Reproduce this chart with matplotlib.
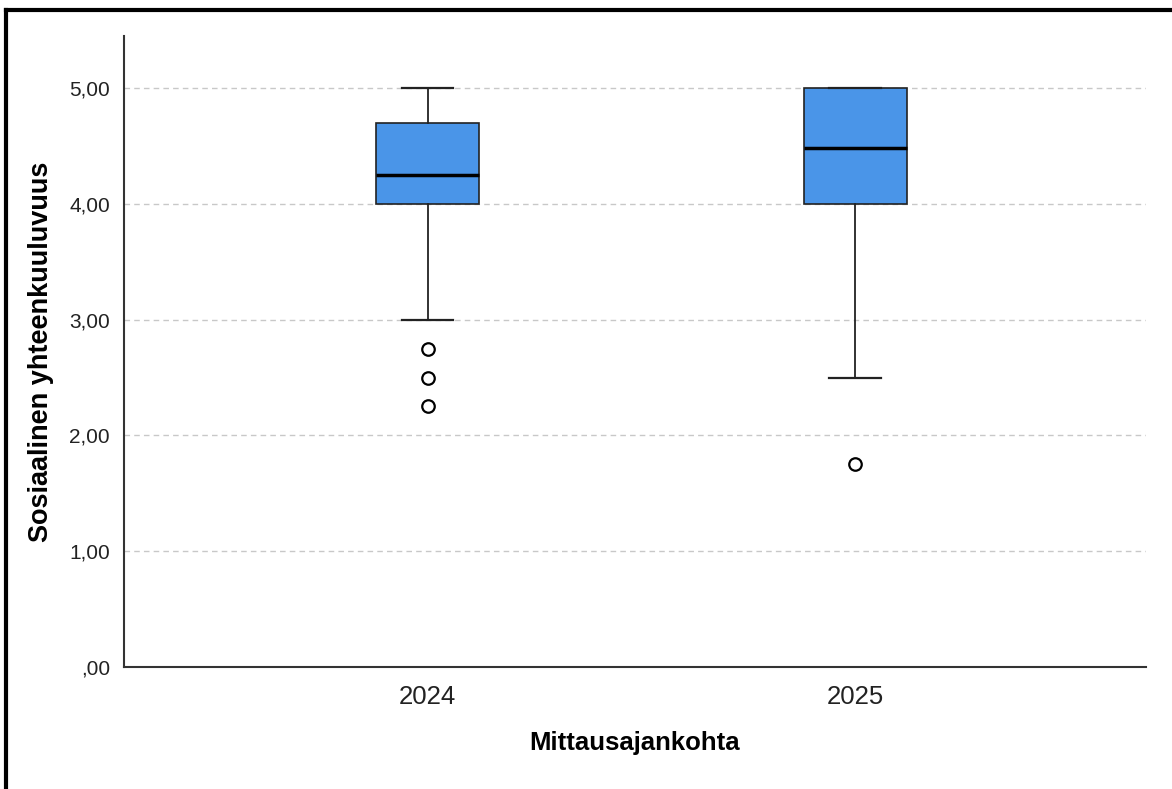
import matplotlib.pyplot as plt
from matplotlib.lines import Line2D

# Measurement points and their box statistics
years = ['2024', '2025']
whisker_low = [3.0, 2.5]
q1 = [4.0, 4.0]
median = [4.25, 4.48]
q3 = [4.70, 5.0]
whisker_high = [5.0, 5.0]
outliers = [[2.75, 2.5, 2.25], [1.75]]

yticks = [0, 1, 2, 3, 4, 5]
ytick_labels = [',00', '1,00', '2,00', '3,00', '4,00', '5,00']

plt.rcParams['font.family'] = ['Liberation Sans', 'DejaVu Sans']

stats = []
for i, name in enumerate(years):
    stats.append(dict(label=name, whislo=whisker_low[i], q1=q1[i], med=median[i],
                      q3=q3[i], whishi=whisker_high[i], fliers=outliers[i]))

fig = plt.figure(figsize=(11.72, 7.89), dpi=100)
ax = fig.add_axes([124 / 1172, 1 - 667 / 789, 1022 / 1172, 631 / 789])

ax.bxp(stats, positions=[1, 2], widths=0.241, patch_artist=True,
       boxprops=dict(facecolor='#4a95e8', edgecolor='#222222', linewidth=1.2),
       medianprops=dict(color='black', linewidth=2.5),
       whiskerprops=dict(color='#222222', linewidth=1.3),
       capprops=dict(color='#222222', linewidth=1.6),
       capwidths=0.12,
       flierprops=dict(marker='o', markersize=9, markerfacecolor='white',
                       markeredgecolor='black', markeredgewidth=1.6),
       zorder=3)

ax.set_xlim(0.289, 2.681)
ax.set_ylim(0, 5.45)
ax.set_yticks(yticks)
ax.set_yticklabels(ytick_labels)
ax.tick_params(axis='both', length=0, colors='#222222')
ax.tick_params(axis='y', labelsize=15, pad=10)
ax.tick_params(axis='x', labelsize=18.5, pad=13)

for y in yticks[1:]:
    ax.axhline(y, color='#c8c8c8', linestyle=(0, (4, 3)), linewidth=1, zorder=1)

for side in ['top', 'right']:
    ax.spines[side].set_visible(False)
for side in ['left', 'bottom']:
    ax.spines[side].set_color('#333333')
    ax.spines[side].set_linewidth(1.5)

ax.set_xlabel('Mittausajankohta', fontsize=18.5, fontweight='bold', labelpad=16)
ax.set_ylabel('Sosiaalinen yhteenkuuluvuus', fontsize=19.5, fontweight='bold', labelpad=11)

# frame around the figure (left and top edges)
fig.add_artist(Line2D([6 / 1172, 6 / 1172], [0, 1 - 10 / 789], color='black', linewidth=3,
                      transform=fig.transFigure))
fig.add_artist(Line2D([6 / 1172, 1], [1 - 10 / 789, 1 - 10 / 789], color='black', linewidth=3,
                      transform=fig.transFigure))

fig.savefig('out.png', dpi=100)
